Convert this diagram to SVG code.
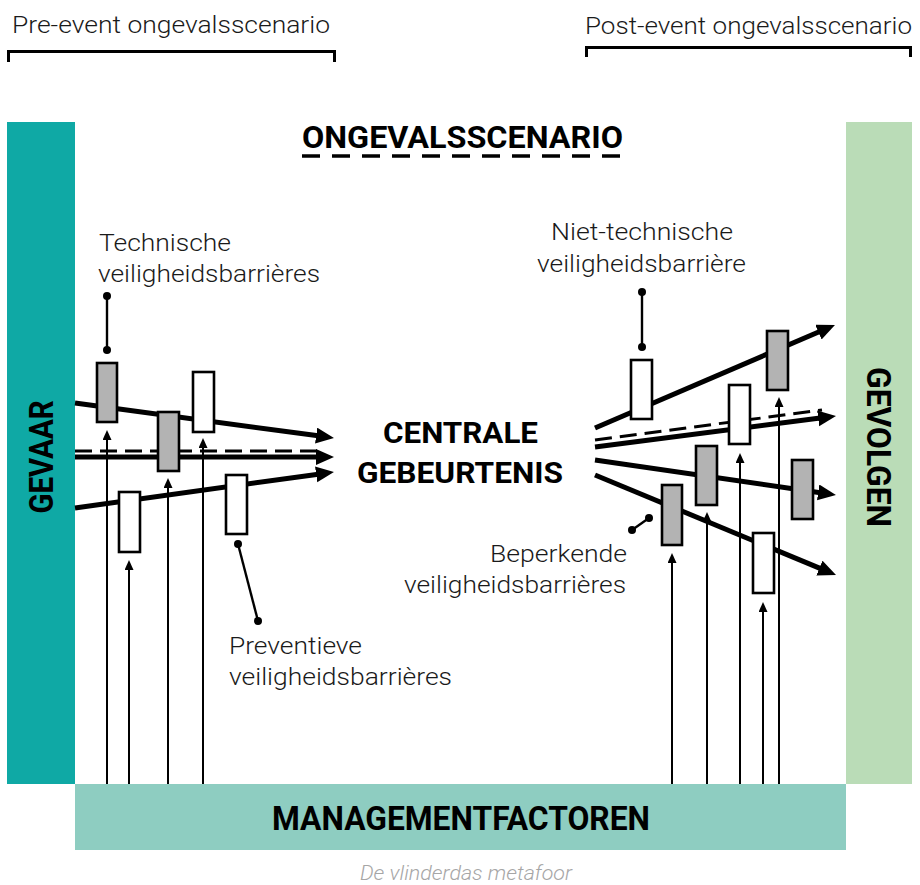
<svg xmlns="http://www.w3.org/2000/svg" width="920" height="885" viewBox="0 0 920 885">
  <style>
    .thin { font-family: Roboto, "Liberation Sans", sans-serif; font-weight: 300; fill: #1a1a1a; }
    .lbl { font-size: 24px; }
    .head { font-size: 24px; }
    .bold { font-family: Roboto, "Liberation Sans", sans-serif; font-weight: 700; fill: #000; }
    .bar-grey { fill: #b3b3b3; stroke: #000; stroke-width: 2.6; }
    .bar-white { fill: #fff; stroke: #000; stroke-width: 2.6; }
    .flow { stroke: #000; stroke-width: 5; fill: none; marker-end: url(#bigHead); }
    .dash { stroke: #000; stroke-width: 3; fill: none; stroke-dasharray: 17 8; }
    .mgmt { stroke: #000; stroke-width: 2; fill: none; marker-end: url(#smallHead); }
    .leader { stroke: #000; stroke-width: 2.4; fill: none; }
    .dot { fill: #000; }
    .bracket { stroke: #000; stroke-width: 3; fill: none; }
  </style>
  <defs>
    <marker id="bigHead" markerUnits="userSpaceOnUse" markerWidth="20" markerHeight="18" refX="4" refY="8" orient="auto">
      <path d="M0,0 L18,8 L0,16 z" fill="#000"/>
    </marker>
    <marker id="smallHead" markerUnits="userSpaceOnUse" markerWidth="12" markerHeight="10" refX="4" refY="4.5" orient="auto">
      <path d="M0,0 L10,4.5 L0,9 z" fill="#000"/>
    </marker>
  </defs>

  <rect width="920" height="885" fill="#fff"/>

  <!-- scenario brackets -->
  <g id="pre-event">
    <text class="thin head" x="12" y="33" textLength="318" lengthAdjust="spacingAndGlyphs">Pre-event ongevalsscenario</text>
    <path class="bracket" d="M8.5,62 V51.5 H334.5 V62"/>
  </g>
  <g id="post-event">
    <text class="thin head" x="585" y="34" textLength="327" lengthAdjust="spacingAndGlyphs">Post-event ongevalsscenario</text>
    <path class="bracket" d="M586.5,57 V47.5 H910.5 V57"/>
  </g>

  <!-- title -->
  <g id="title">
    <text class="bold" x="302" y="148" font-size="32" textLength="321" lengthAdjust="spacingAndGlyphs">ONGEVALSSCENARIO</text>
    <line x1="302" y1="156" x2="622" y2="156" stroke="#000" stroke-width="3.5" stroke-dasharray="18 12"/>
  </g>

  <!-- side and bottom blocks -->
  <g id="gevaar">
    <rect x="7" y="122" width="68" height="662" fill="#0fa9a5"/>
    <text class="bold" transform="translate(53,457) rotate(-90)" x="0" y="0" font-size="33" text-anchor="middle" textLength="113" lengthAdjust="spacingAndGlyphs">GEVAAR</text>
  </g>
  <g id="gevolgen">
    <rect x="846" y="122" width="66" height="662" fill="#badcb7"/>
    <text class="bold" transform="translate(867,447) rotate(90)" x="0" y="0" font-size="33" text-anchor="middle" textLength="160" lengthAdjust="spacingAndGlyphs">GEVOLGEN</text>
  </g>
  <g id="managementfactoren">
    <rect x="75" y="784" width="771" height="66" fill="#8ecdc1"/>
    <text class="bold" x="461" y="830" font-size="34" text-anchor="middle" textLength="378" lengthAdjust="spacingAndGlyphs">MANAGEMENTFACTOREN</text>
  </g>

  <!-- central event -->
  <g id="centrale-gebeurtenis">
    <text class="bold" x="460.5" y="443" font-size="29" text-anchor="middle" textLength="155" lengthAdjust="spacingAndGlyphs">CENTRALE</text>
    <text class="bold" x="460" y="483" font-size="29" text-anchor="middle" textLength="206" lengthAdjust="spacingAndGlyphs">GEBEURTENIS</text>
  </g>

  <!-- connectors: scenario flows, management influences, leader lines -->
  <g id="connectors">
    <!-- pre-event flows -->
    <line class="flow" x1="75" y1="403" x2="320.1" y2="436.1"/>
    <line class="dash" x1="75" y1="451" x2="322" y2="451"/>
    <line class="flow" x1="75" y1="457" x2="320" y2="457"/>
    <line class="flow" x1="75" y1="508" x2="320.1" y2="473.9"/>
    <!-- post-event flows -->
    <line class="flow" x1="595" y1="428" x2="822.1" y2="330.5"/>
    <line class="dash" x1="595" y1="440" x2="822" y2="410"/>
    <line class="flow" x1="595" y1="447" x2="822.1" y2="417.8"/>
    <line class="flow" x1="595" y1="460" x2="822.1" y2="493"/>
    <line class="flow" x1="595" y1="475" x2="823.1" y2="569.6"/>
    <!-- management influences -->
    <line class="mgmt" x1="107" y1="784" x2="107" y2="436"/>
    <line class="mgmt" x1="129" y1="784" x2="129" y2="566"/>
    <line class="mgmt" x1="168" y1="784" x2="168" y2="484"/>
    <line class="mgmt" x1="203" y1="784" x2="203" y2="444"/>
    <line class="mgmt" x1="672" y1="784" x2="672" y2="559"/>
    <line class="mgmt" x1="707" y1="784" x2="707" y2="518"/>
    <line class="mgmt" x1="740" y1="784" x2="740" y2="459"/>
    <line class="mgmt" x1="763" y1="784" x2="763" y2="608"/>
    <line class="mgmt" x1="779" y1="784" x2="779" y2="403"/>
    <!-- leader lines -->
    <line class="leader" x1="107" y1="296" x2="107" y2="350"/>
    <circle class="dot" cx="107" cy="296" r="4"/>
    <circle class="dot" cx="107" cy="350" r="4"/>
    <line class="leader" x1="238" y1="544" x2="258" y2="621"/>
    <circle class="dot" cx="238" cy="544" r="4"/>
    <circle class="dot" cx="258" cy="621" r="4"/>
    <line class="leader" x1="642" y1="292" x2="642" y2="347"/>
    <circle class="dot" cx="642" cy="292" r="4"/>
    <circle class="dot" cx="642" cy="347" r="4"/>
    <line class="leader" x1="632" y1="530" x2="649" y2="518"/>
    <circle class="dot" cx="632" cy="530" r="4"/>
    <circle class="dot" cx="649" cy="518" r="4"/>
  </g>

  <!-- barriers -->
  <g id="barrier-L1"><rect class="bar-grey" x="97" y="363" width="20" height="59"/></g>
  <g id="barrier-L2"><rect class="bar-grey" x="158" y="412" width="21" height="59"/></g>
  <g id="barrier-L3"><rect class="bar-white" x="193" y="372" width="21" height="60"/></g>
  <g id="barrier-L4"><rect class="bar-white" x="119" y="492" width="21" height="60"/></g>
  <g id="barrier-L5"><rect class="bar-white" x="226" y="475" width="21" height="59"/></g>
  <g id="barrier-R1"><rect class="bar-white" x="631" y="360" width="21" height="59"/></g>
  <g id="barrier-R2"><rect class="bar-grey" x="767" y="331" width="21" height="59"/></g>
  <g id="barrier-R3"><rect class="bar-white" x="729" y="385" width="21" height="59"/></g>
  <g id="barrier-R4"><rect class="bar-grey" x="696" y="446" width="21" height="59"/></g>
  <g id="barrier-R5"><rect class="bar-grey" x="792" y="460" width="21" height="59"/></g>
  <g id="barrier-R6"><rect class="bar-grey" x="662" y="485" width="20" height="60"/></g>
  <g id="barrier-R7"><rect class="bar-white" x="753" y="533" width="21" height="60"/></g>

  <!-- barrier labels -->
  <g id="label-technische">
    <text class="thin lbl" x="99" y="251" textLength="132" lengthAdjust="spacingAndGlyphs">Technische</text>
    <text class="thin lbl" x="98" y="282" textLength="222" lengthAdjust="spacingAndGlyphs">veiligheidsbarrières</text>
  </g>
  <g id="label-preventieve">
    <text class="thin lbl" x="229" y="654" textLength="133" lengthAdjust="spacingAndGlyphs">Preventieve</text>
    <text class="thin lbl" x="229" y="685" textLength="223" lengthAdjust="spacingAndGlyphs">veiligheidsbarrières</text>
  </g>
  <g id="label-niet-technische">
    <text class="thin lbl" x="551" y="240" textLength="182" lengthAdjust="spacingAndGlyphs">Niet-technische</text>
    <text class="thin lbl" x="537" y="272" textLength="209" lengthAdjust="spacingAndGlyphs">veiligheidsbarrière</text>
  </g>
  <g id="label-beperkende">
    <text class="thin lbl" x="490" y="562" textLength="137" lengthAdjust="spacingAndGlyphs">Beperkende</text>
    <text class="thin lbl" x="404" y="593" textLength="222" lengthAdjust="spacingAndGlyphs">veiligheidsbarrières</text>
  </g>

  <!-- caption -->
  <text x="360" y="880" font-family="Roboto, 'Liberation Sans', sans-serif" font-style="italic" font-weight="300" font-size="20" fill="#a6a6a6" textLength="212" lengthAdjust="spacingAndGlyphs">De vlinderdas metafoor</text>
</svg>
